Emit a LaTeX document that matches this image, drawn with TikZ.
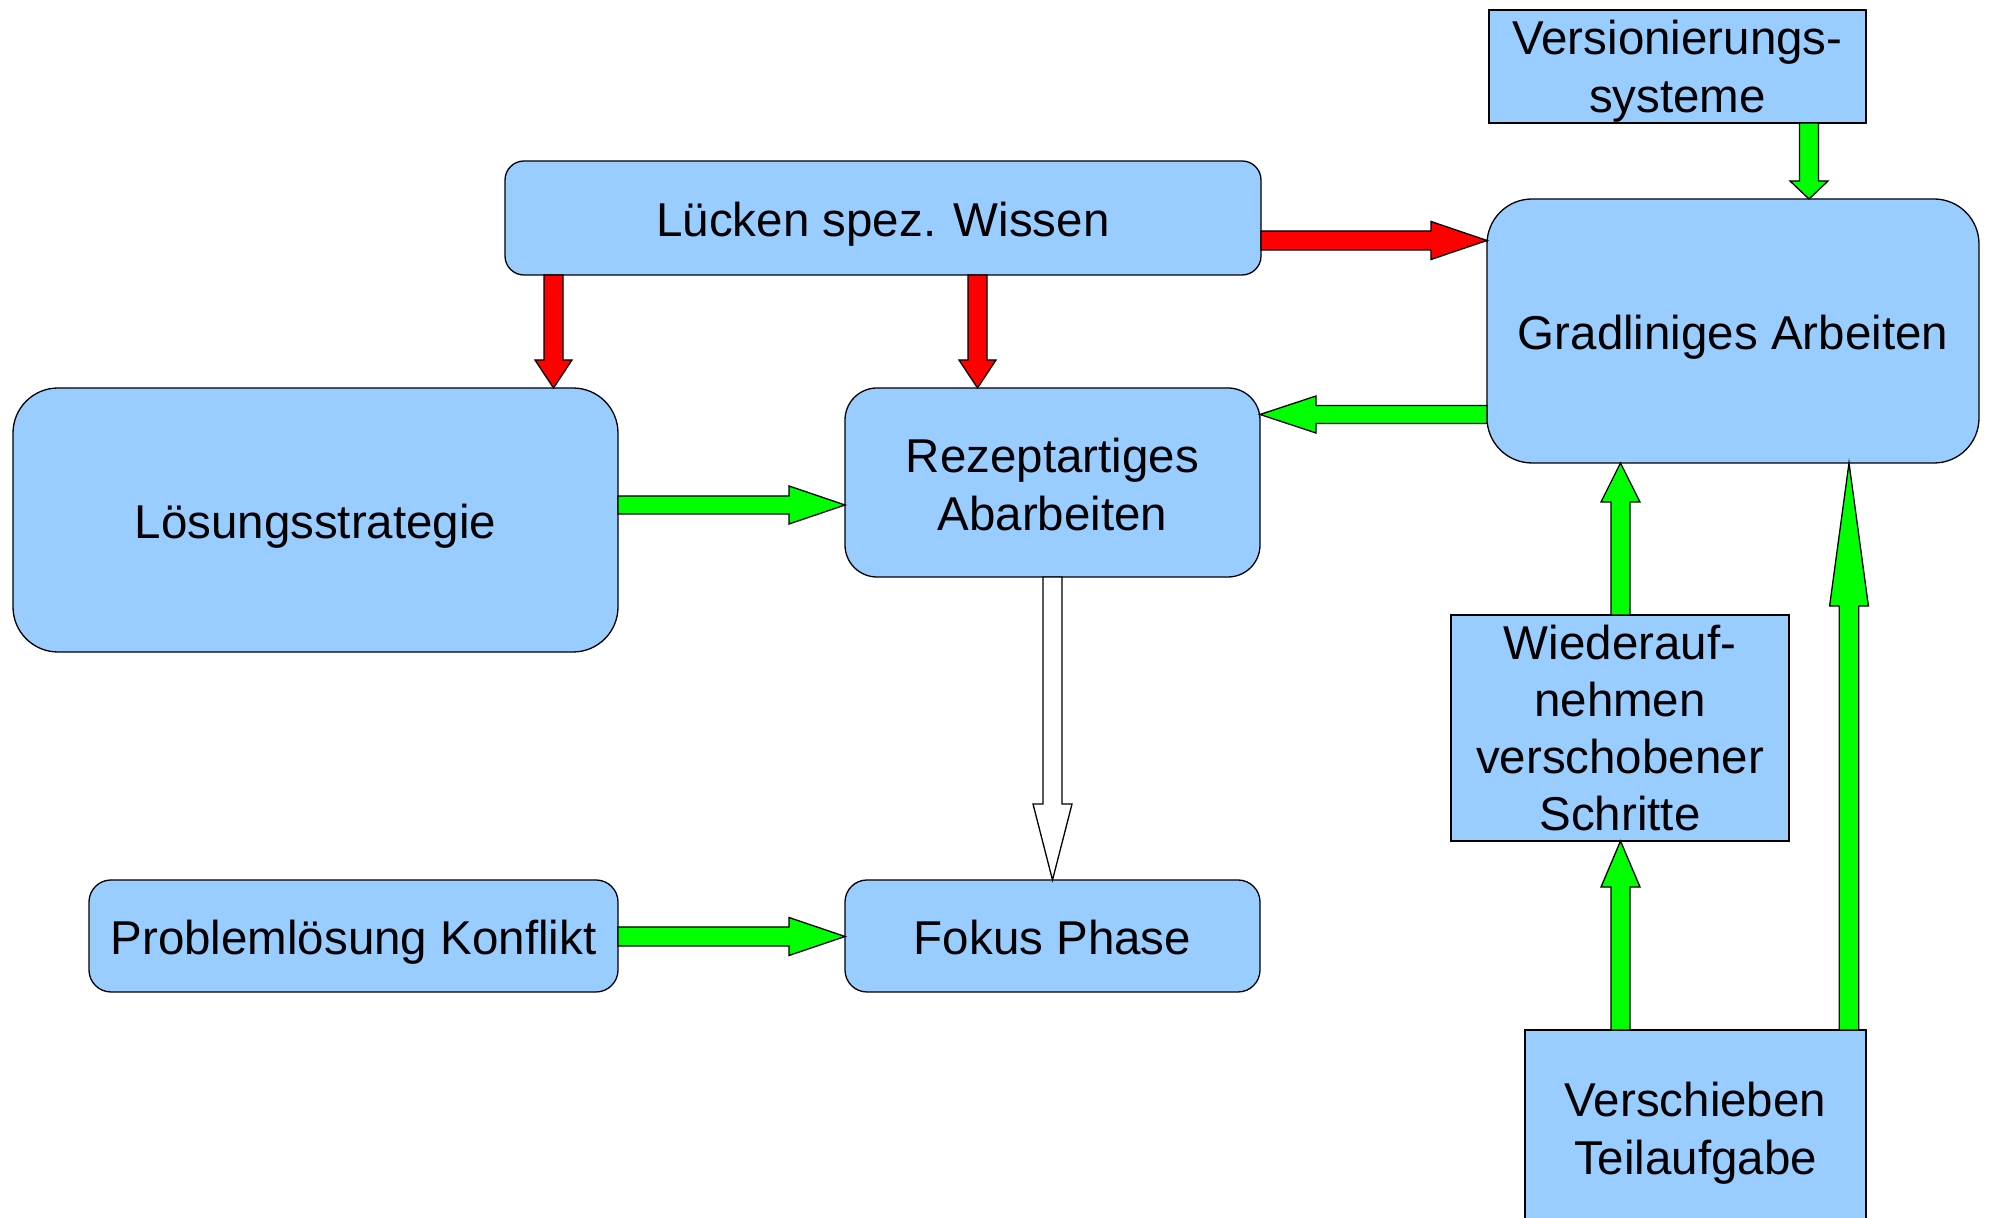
\documentclass[tikz,border=0pt]{standalone}
\usepackage{fontspec}
\setmainfont{Liberation Sans}
\usetikzlibrary{calc}
\definecolor{boxblue}{HTML}{99CCFF}
\definecolor{agreen}{HTML}{00FF00}
\definecolor{ared}{HTML}{FF0000}
\newcommand\tstr[1][5pt]{\rule{0pt}{\dimexpr0.905em+#1\relax}}
\newcommand\bstr{\rule[-0.212em]{0pt}{0.212em}}
\newcommand\bkarrow[6]{% start, end, fill, shaft half, head half, head length
  \draw[fill=#3, line width=1.3pt, line join=miter] let \p1=#1, \p2=#2,
    \n1={veclen(\x2-\x1,\y2-\y1)}, \n2={(\x2-\x1)/\n1}, \n3={(\y2-\y1)/\n1} in
    ({\x1-(\n3)*(#4)},{\y1+(\n2)*(#4)}) --
    ({\x2-(\n2)*(#6)-(\n3)*(#4)},{\y2-(\n3)*(#6)+(\n2)*(#4)}) --
    ({\x2-(\n2)*(#6)-(\n3)*(#5)},{\y2-(\n3)*(#6)+(\n2)*(#5)}) --
    (\x2,\y2) --
    ({\x2-(\n2)*(#6)+(\n3)*(#5)},{\y2-(\n3)*(#6)-(\n2)*(#5)}) --
    ({\x2-(\n2)*(#6)+(\n3)*(#4)},{\y2-(\n3)*(#6)-(\n2)*(#4)}) --
    ({\x1+(\n3)*(#4)},{\y1-(\n2)*(#4)}) -- cycle;
}
\tikzset{
  box/.style={draw=black, fill=boxblue, line width=1.3pt, inner sep=0pt, outer sep=0pt,
    align=center, font=\fontsize{47.5}{58}\selectfont},
}
\begin{document}
\begin{tikzpicture}[x=1pt,y=1pt]
\clip (0,0) rectangle (1990,1218);
\fill[white] (0,0) rectangle (1990,1218);

\node[box, minimum width=377pt, minimum height=113pt] (vers) at (1677.5,1151.5) {\tstr[2pt]Versionierungs-\\systeme\bstr};
\node[box, rounded corners=45pt, minimum width=492pt, minimum height=264pt] (grad) at (1733,887) {\tstr Gradliniges Arbeiten\bstr};
\node[box, rounded corners=19pt, minimum width=756pt, minimum height=114pt] (luecken) at (883,1000) {\tstr Lücken spez. Wissen\bstr};
\node[box, rounded corners=45pt, minimum width=605pt, minimum height=264pt] (loesung) at (315.5,698) {\tstr Lösungsstrategie\bstr};
\node[box, rounded corners=32pt, minimum width=415pt, minimum height=189pt] (rezept) at (1052.5,735.5) {\tstr Rezeptartiges\\Abarbeiten\bstr};
\node[box, rounded corners=22pt, minimum width=529pt, minimum height=112pt] (problem) at (353.5,282) {\tstr Problemlösung Konflikt\bstr};
\node[box, rounded corners=22pt, minimum width=415pt, minimum height=112pt] (fokus) at (1052.5,282) {\tstr Fokus Phase\bstr};
\node[box, minimum width=338pt, minimum height=226pt, font=\fontsize{47.5}{57}\selectfont] (wieder) at (1620,490) {\tstr[2pt]Wiederauf-\\nehmen\\verschobener\\Schritte\bstr};
\node[box, minimum width=341pt, minimum height=194pt] (versch) at (1695.5,91) {\tstr Verschieben\\Teilaufgabe\bstr};

\coordinate (xv) at (1809,0);
\coordinate (xl) at (553.5,0);
\coordinate (xr) at (977.5,0);
\coordinate (xw) at (1620.5,0);
\coordinate (xg) at (1849,0);
\coordinate (yr) at (0,977.5);
\coordinate (yg1) at (0,713);
\coordinate (yg2) at (0,803.5);
\coordinate (yp) at (0,281.5);

\bkarrow{(vers.south -| xv)}{(grad.north -| xv)}{agreen}{9.5}{19}{18}
\bkarrow{(luecken.east |- yr)}{(grad.west |- yr)}{ared}{9.5}{19}{56}
\bkarrow{(luecken.south -| xl)}{(loesung.north -| xl)}{ared}{9.5}{18.5}{28}
\bkarrow{(luecken.south -| xr)}{(rezept.north -| xr)}{ared}{9.5}{18.5}{28}
\bkarrow{(loesung.east |- yg1)}{(rezept.west |- yg1)}{agreen}{9}{19}{56}
\bkarrow{(grad.west |- yg2)}{(rezept.east |- yg2)}{agreen}{9}{18.5}{56}
\bkarrow{(rezept.south)}{(fokus.north)}{white}{9.5}{19.5}{76}
\bkarrow{(problem.east |- yp)}{(fokus.west |- yp)}{agreen}{9.5}{19}{56}
\bkarrow{(wieder.north -| xw)}{(grad.south -| xw)}{agreen}{9.5}{19.5}{39}
\bkarrow{(versch.north -| xw)}{(wieder.south -| xw)}{agreen}{9.5}{19.5}{46}
\bkarrow{(versch.north -| xg)}{(grad.south -| xg)}{agreen}{9.7}{19.4}{143}
\end{tikzpicture}
\end{document}
